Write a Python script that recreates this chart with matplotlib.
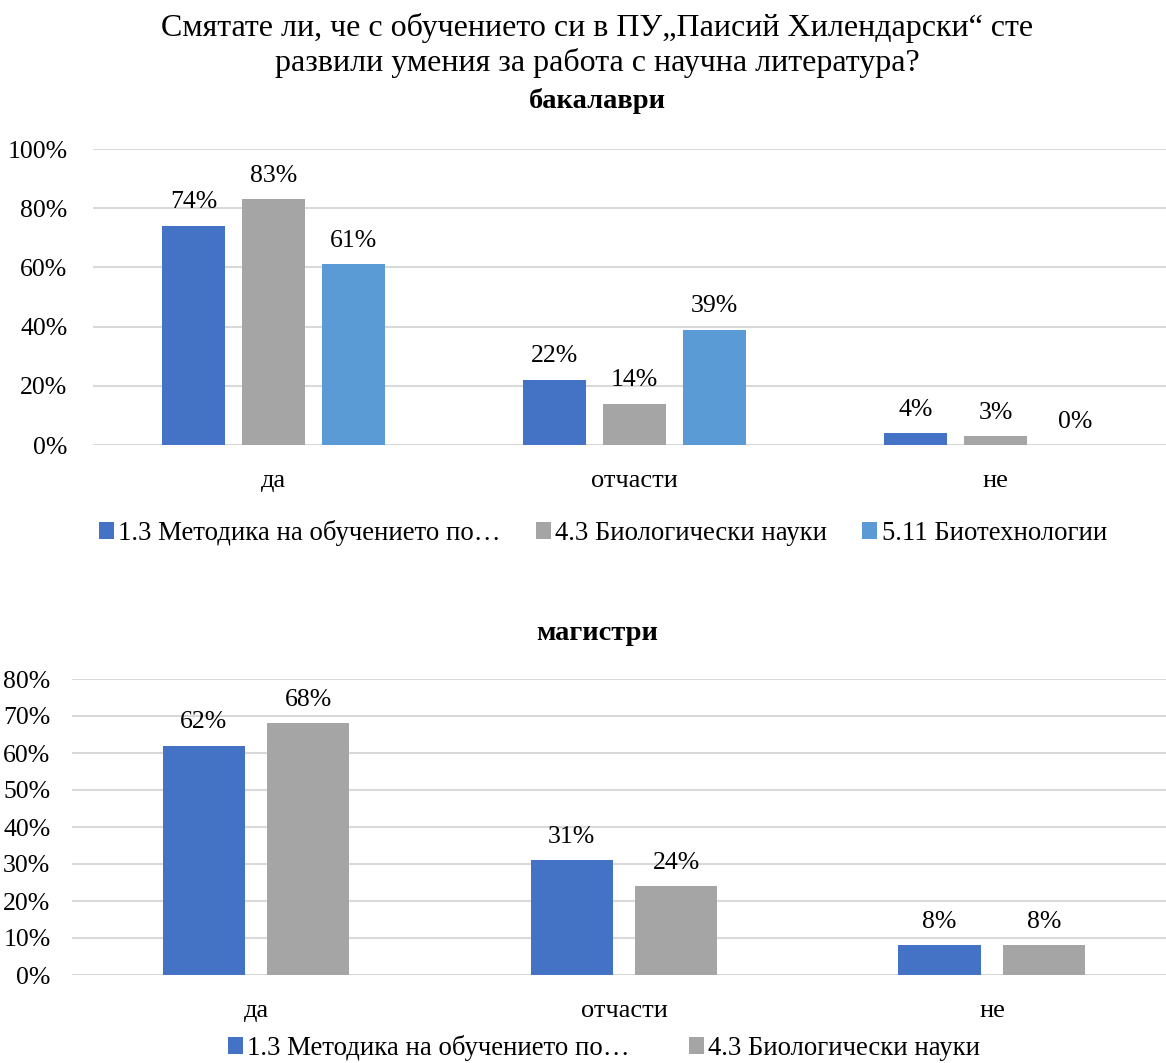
import matplotlib
matplotlib.use("Agg")
import matplotlib.pyplot as plt
import numpy as np
from matplotlib.ticker import PercentFormatter

plt.rcParams['font.family'] = ['Liberation Serif', 'DejaVu Serif']

categories = ["да", "отчасти", "не"]
top_series = ["1.3 Методика на обучението по…", "4.3 Биологически науки", "5.11 Биотехнологии"]
top_values = [
    [0.74, 0.22, 0.04],
    [0.83, 0.14, 0.03],
    [0.61, 0.39, 0.00],
]
top_labels = [["74%", "22%", "4%"], ["83%", "14%", "3%"], ["61%", "39%", "0%"]]
bottom_series = ["1.3 Методика на обучението по…", "4.3 Биологически науки"]
bottom_values = [
    [0.62, 0.31, 0.08],
    [0.68, 0.24, 0.08],
]
bottom_labels = [["62%", "31%", "8%"], ["68%", "24%", "8%"]]
title_line1 = "Смятате ли, че с обучението си в ПУ„Паисий Хилендарски“ сте"
title_line2 = "развили умения за работа с научна литература?"
top_title = "бакалаври"
bottom_title = "магистри"

colors = ["#4472C4", "#A5A5A5", "#5B9BD5"]
W, H = 1166, 1063
fig = plt.figure(figsize=(W / 100, H / 100), dpi=100)
FS = 18.5
CFS = 19
LFS = 19.3
TFS = 23
SFS = 20.5


def axes_px(x0, y_top, x1, y_bot):
    return fig.add_axes([x0 / W, 1 - y_bot / H, (x1 - x0) / W, (y_bot - y_top) / H])


def draw(ax, series, values, labels, width, step, ymax, ystep, xmax, ypad):
    x = np.arange(len(categories))
    n = len(series)
    handles = []
    for i in range(n):
        off = (i - (n - 1) / 2) * step
        b = ax.bar(x + off, values[i], width, color=colors[i], label=series[i], zorder=3)
        handles.append(b)
        for xi, v, lab in zip(x + off, values[i], labels[i]):
            ax.annotate(lab, (xi, v), xytext=(0, 9), textcoords="offset points",
                        ha="center", va="bottom", fontsize=FS, color="#000000")
    ax.set_xlim(-0.5, xmax)
    ax.set_ylim(0, ymax)
    ax.set_yticks(np.arange(0, ymax + 1e-9, ystep))
    ax.yaxis.set_major_formatter(PercentFormatter(1.0, decimals=0))
    ax.set_xticks(x)
    ax.set_xticklabels(categories)
    ax.tick_params(axis="both", length=0, labelsize=FS, colors="#000000")
    ax.tick_params(axis="x", pad=18, labelsize=CFS)
    ax.tick_params(axis="y", pad=ypad)
    ax.grid(axis="y", color="#D9D9D9", linewidth=1.5, zorder=0)
    for s in ax.spines.values():
        s.set_visible(False)
    return handles


ax1 = axes_px(93, 149, 1166, 445)
h1 = draw(ax1, top_series, top_values, top_labels, 0.1745, 0.2216, 1.0, 0.2, 2.472, 18.5)
ax2 = axes_px(72, 679, 1166, 975)
h2 = draw(ax2, bottom_series, bottom_values, bottom_labels, 0.223, 0.285, 0.8, 0.1, 2.473, 15.5)

cx = 597 / W
fig.text(cx, 1 - 28 / H, title_line1, ha="center", va="center", fontsize=TFS)
fig.text(cx, 1 - 63 / H, title_line2, ha="center", va="center", fontsize=TFS)
fig.text(cx, 1 - 101 / H, top_title, ha="center", va="center", fontsize=SFS, fontweight="bold")
fig.text(cx, 1 - 633 / H, bottom_title, ha="center", va="center", fontsize=SFS, fontweight="bold")

leg_kw = dict(frameon=False, fontsize=LFS, handlelength=0.56, handleheight=0.56,
              handletextpad=0.17, borderaxespad=0, loc="center")
fig.legend(handles=h1, labels=top_series, ncol=3, columnspacing=1.3,
           bbox_to_anchor=(603 / W, 1 - 533 / H), **leg_kw)
fig.legend(handles=h2, labels=bottom_series, ncol=2, columnspacing=2.2,
           bbox_to_anchor=(604 / W, 1 - 1048 / H), **leg_kw)

fig.savefig("out.png", dpi=100)
